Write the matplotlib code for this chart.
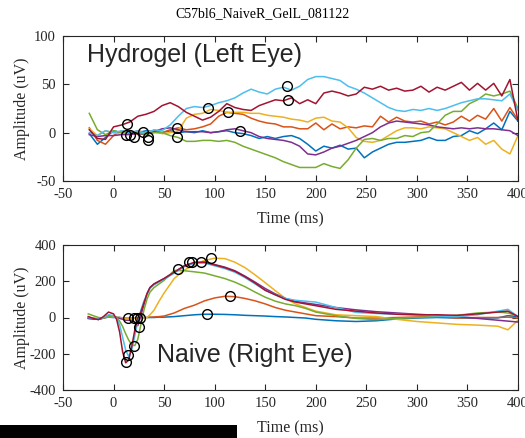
import matplotlib
matplotlib.use('Agg')
import matplotlib.pyplot as plt
from matplotlib.patches import Rectangle

# =========================
# data
# =========================
TITLE = 'C57bl6_NaiveR_GelL_081122'

# MATLAB default colour order
line_colors = ['#0072BD', '#D95319', '#EDB120', '#7E2F8E', '#77AC30', '#4DBEEE', '#A2142F']

# ---- top panel: Hydrogel (Left Eye)
top_t = [-24, -16, -8, 0, 8, 16, 24, 32, 40, 48, 56, 64, 72, 80, 88, 96, 104, 112, 120, 128,
         136, 144, 152, 160, 168, 176, 184, 192, 200, 208, 216, 224, 232, 240, 248, 256, 264,
         272, 280, 288, 296, 304, 312, 320, 328, 336, 344, 352, 360, 368, 376, 384, 392, 400]

top_blue = [-1, -12, -5, 2, 0, 1, 0, 2, 1, 0, 2, 0, 1, 0, 2, 0, 1, 2, 0, -1, -3, -6, -4, -6, -4,
            -3, -6, -12, -19, -14, -16, -13, -17, -16, -26, -20, -16, -12, -10, -10, -9, -8, -5,
            -8, -8, -4, -3, 2, -1, 4, 10, 3, 22, 12]
top_orange = [5, -8, -12, -3, 2, -1, 2, 0, 2, 0, 3, 5, 3, 4, 6, 9, 17, 21, 20, 19, 15, 12, 10, 9, 6,
              6, 4, 4, 10, 3, 9, 4, 6, 5, 7, 6, 17, 11, 16, 12, 11, 12, 9, 11, 8, 11, 17, 12, 18,
              14, 25, 12, 26, 13]
top_yellow = [4, -3, 2, 0, -2, 1, -2, 0, 1, -1, 0, 2, 15, 19, 20, 24, 23, 21, 21, 21, 20, 20, 18, 17, 16,
              14, 13, 11, 15, 16, 12, 11, 5, -5, -9, -10, -8, -3, 2, 5, 5, 4, 6, 5, 4, 0, -4, -8,
              -5, -12, -8, -17, -22, -3]
top_purple = [-2, -4, -3, -3, -2, -2, -1, -2, 1, 4, 5, 3, 1, 1, 1, 0, 1, 3, 4, 2, 0, -4, -6, -7, -8,
              -10, -14, -22, -23, -20, -16, -14, -11, -8, -4, 0, 6, 10, 12, 11, 10, 9, 8, 6, 5, 4,
              5, 4, 5, 4, 4, 3, 2, -3]
top_green = [20, 3, -2, 2, 0, 1, 0, -2, 0, 0, -3, -5, -9, -9, -8, -8, -9, -8, -10, -14, -17, -20, -23,
             -26, -30, -33, -36, -36, -36, -32, -35, -37, -28, -16, -7, -6, -8, -6, -6, -3, -4, 0,
             1, 9, 18, 22, 22, 30, 34, 40, 38, 40, 43, 25]
top_lightblue = [0, -3, 2, 0, 2, 0, 2, -1, 3, 2, 8, 17, 25, 27, 26, 28, 31, 33, 36, 41, 45, 42, 40, 45,
                 47, 44, 48, 55, 58, 58, 56, 54, 48, 45, 41, 36, 31, 26, 23, 22, 24, 23, 25, 23, 25,
                 28, 31, 33, 35, 35, 34, 33, 40, 23]
top_darkred = [3, -6, -7, 6, 8, 11, 17, 19, 22, 28, 31, 27, 21, 17, 13, 16, 22, 30, 26, 24, 23, 28, 31,
               34, 33, 36, 30, 34, 30, 41, 43, 41, 38, 40, 47, 45, 48, 44, 46, 43, 44, 48, 42, 47,
               44, 48, 52, 44, 51, 44, 51, 38, 55, 12]

top_marker_t = [13.6, 12.6, 16.5, 20.5, 29.4, 34.4, 34.4, 63, 63, 93.8, 113.6, 125.4, 172, 173]
top_marker_v = [9, -2, -2, -4, 1, -5, -8, 5, -5, 25, 21, 2, 48, 34]

# ---- bottom panel: Naive (Right Eye)
bot_t = [-25, -20, -15, -10, -5, 0, 3, 6, 9, 12, 15, 18, 21, 24, 27, 30, 33, 36, 40, 45, 50, 60, 70,
         80, 90, 100, 110, 120, 130, 140, 150, 160, 170, 180, 190, 200, 220, 240, 260, 280, 300,
         320, 340, 360, 380, 390, 400]

bot_blue = [-5, -8, -10, -3, 2, 0, 0, 0, -2, -3, -2, -2, -3, -2, -3, -2, 0, 0, 0, 2, 2, 5, 10, 15,
            18, 18, 17, 15, 12, 10, 8, 5, 3, 0, -3, -10, -18, -22, -18, -8, -3, 0, -3, -3, -2, 10, 5]
bot_orange = [0, -5, -10, -3, 5, 3, 0, 0, -2, -2, -2, -2, -2, -2, -2, 0, 0, 2, 3, 5, 8, 25, 50, 68,
              92, 108, 117, 115, 105, 92, 75, 55, 40, 30, 20, 10, 5, -3, -3, 0, 3, 5, -3, 0, 0, 2, -3]
bot_yellow = [2, -3, -8, -2, 5, 3, 0, -2, -3, -3, -3, -3, -3, -5, -5, -3, 0, 15, 40, 90, 135, 215,
              262, 290, 315, 327, 325, 305, 275, 235, 192, 148, 105, 75, 55, 35, 15, 10, 5, -10,
              -22, -30, -38, -42, -48, -68, -15]
bot_purple = [-5, -8, -10, -3, 12, 8, 0, -5, -10, -15, -15, -15, -25, -45, 10, 70, 130, 165, 185,
              200, 215, 250, 285, 300, 305, 292, 278, 258, 228, 195, 160, 130, 105, 90, 80, 72,
              55, 42, 32, 25, 18, 12, 5, -5, -15, -20, -25]
bot_green = [20, 10, 0, -3, 5, 5, 0, -20, -50, -90, -125, -150, -155, -120, -40, 40, 100, 140, 165,
             185, 205, 260, 258, 252, 245, 230, 215, 195, 170, 140, 112, 90, 75, 65, 50, 30, 10,
             -5, -12, -5, 0, 5, 12, 25, 30, 25, 8]
bot_lightblue = [0, -3, -8, 0, 15, 10, -5, -40, -110, -180, -215, -180, -100, -20, 40, 90, 125, 160,
                 180, 195, 210, 245, 280, 300, 300, 285, 270, 250, 220, 185, 150, 125, 105, 95, 90,
                 85, 55, 28, 22, 18, 15, 8, 5, 15, 35, 45, 5]
bot_darkred = [5, -5, -12, 5, 30, 20, -10, -80, -190, -250, -235, -160, -70, 0, 30, 80, 130, 165,
               185, 200, 215, 250, 285, 305, 305, 290, 275, 255, 225, 190, 150, 125, 100, 85, 75,
               65, 45, 35, 25, 18, 15, 15, 12, 20, 30, 35, 5]

bot_marker_t = [12, 14.5, 20.5, 25.5, 14.6, 20.5, 23.5, 26.4, 63.4, 75, 78, 86, 96, 115, 92]
bot_marker_v = [-245, -207, -157, -52, 0, 0, 0, 0, 266, 308, 305, 305, 330, 119, 19]

top_series = [top_blue, top_orange, top_yellow, top_purple, top_green, top_lightblue, top_darkred]
bot_series = [bot_blue, bot_orange, bot_yellow, bot_purple, bot_green, bot_lightblue, bot_darkred]

x_ticks = [-50, 0, 50, 100, 150, 200, 250, 300, 350, 400]
top_yticks = [-50, 0, 50, 100]
bot_yticks = [-400, -200, 0, 200, 400]

# =========================
# figure
# =========================
plt.rcParams['axes.unicode_minus'] = False

W, H = 525, 438
fig = plt.figure(figsize=(W / 100, H / 100), dpi=100)
fig.patch.set_facecolor('white')

serif = ['Liberation Serif', 'DejaVu Serif']
sans = ['Liberation Sans', 'DejaVu Sans']
axcol = '#262626'


def style_axes(ax, yticks, ylim):
    ax.set_xlim(-50, 400)
    ax.set_ylim(*ylim)
    ax.set_xticks(x_ticks)
    ax.set_yticks(yticks)
    ax.tick_params(direction='in', top=True, right=True, length=4, width=0.8,
                   colors=axcol, labelsize=10.5, pad=5)
    for lab in ax.get_xticklabels() + ax.get_yticklabels():
        lab.set_family(serif)
    for sp in ax.spines.values():
        sp.set_color(axcol)
        sp.set_linewidth(0.8)
    ax.set_xlabel('Time (ms)', family=serif, fontsize=11.5, color=axcol)
    ax.set_ylabel('Amplitude (uV)', family=serif, fontsize=11.5, color=axcol)
    ax.xaxis.set_label_coords(0.5, -0.21)
    ax.yaxis.set_label_coords(-0.072, 0.5)


# axes positions in pixels: x 63..518, top 36..181, bottom 245..390
ax1 = fig.add_axes([63 / W, 1 - 181 / H, 455 / W, 145 / H])
ax2 = fig.add_axes([63 / W, 1 - 390 / H, 455 / W, 145 / H])

for vals, c in zip(top_series, line_colors):
    ax1.plot(top_t, vals, color=c, lw=1.1)
ax1.plot(top_marker_t, top_marker_v, 'o', mfc='none', mec='black', ms=7, mew=1.0)
style_axes(ax1, top_yticks, (-50, 100))
ax1.text(0.053, 0.87, 'Hydrogel (Left Eye)', transform=ax1.transAxes, family=sans,
         fontsize=18, color=axcol, va='center', ha='left')

for vals, c in zip(bot_series, line_colors):
    ax2.plot(bot_t, vals, color=c, lw=1.1)
ax2.plot(bot_marker_t, bot_marker_v, 'o', mfc='none', mec='black', ms=7, mew=1.0)
style_axes(ax2, bot_yticks, (-400, 400))
ax2.text(0.207, 0.24, 'Naive (Right Eye)', transform=ax2.transAxes, family=sans,
         fontsize=18, color=axcol, va='center', ha='left')

fig.text(0.5, 1 - 14 / H, TITLE, family=serif, fontsize=10, ha='center', va='center')

# black strip at the bottom-left edge of the picture
fig.patches.append(Rectangle((0, 0), 237 / W, 13 / H, transform=fig.transFigure,
                             facecolor='black', edgecolor='none'))

fig.savefig('out.png', dpi=100)
print('saved out.png')
